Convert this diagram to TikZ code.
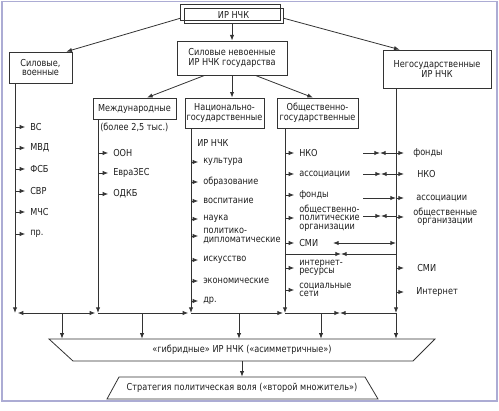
\documentclass[tikz,border=0pt]{standalone}
\usepackage{fontspec}
\setmainfont{DejaVu Sans}[FakeStretch=0.85]
\usetikzlibrary{arrows.meta}
\definecolor{lc}{HTML}{333333}
\definecolor{tc}{HTML}{1E1E1E}
\definecolor{fr}{RGB}{172,172,212}
\newcommand\fbx{\fontsize{7.2pt}{7.1pt}\selectfont}
\newcommand\fitem{\fontsize{7.2pt}{6.4pt}\selectfont}
\begin{document}
\begin{tikzpicture}[x=0.75pt,y=-0.75pt,
  box/.style={draw=lc, line width=0.6pt, font=\fbx, text=tc, align=center, inner sep=0pt},
  it/.style={font=\fitem, text=tc, inner sep=0pt, anchor=west, align=left},
  ln/.style={draw=lc, line width=0.6pt},
  arr/.style={ln, -{Latex[length=4.2pt,width=3.2pt]}},
  dbl/.style={ln, {Latex[length=4.2pt,width=3.2pt]}-{Latex[length=4.2pt,width=3.2pt]}},
  iarr/.style={arr, shorten >=3.5pt},
  lbl/.style={font=\fbx, text=tc, inner sep=0pt, minimum height=16.5pt}
]
\useasboundingbox (0,0) rectangle (499,410);
\draw[fr, line width=1.3pt] (2,1.5) rectangle (497,401);

% boxes
\node[box, minimum width=74.25pt, minimum height=11.25pt] (top) at (233.5,15.5) {ИР НЧК};
\draw[ln] ([shift={(-3,-3)}]top.south west) rectangle ([shift={(-3,-3)}]top.north east);
\node[box, minimum width=47.25pt, minimum height=23.25pt] (sil) at (40.5,67.5) {Силовые,\\военные};
\node[box, minimum width=82.5pt, minimum height=25.5pt] (nev) at (232,58) {Силовые невоенные\\ИР НЧК государства};
\node[box, minimum width=81pt, minimum height=28.5pt] (neg) at (437,69) {Негосударственные\\ИР НЧК};
\node[box, minimum width=62.25pt, minimum height=15.75pt] (mezh) at (134.5,108.5) {Международные};
\node[box, minimum width=59.25pt, minimum height=22.5pt] (nac) at (224.5,113) {Национально-\\государственные};
\node[box, minimum width=60.75pt, minimum height=22.5pt] (obsh) at (317.5,113) {Общественно-\\государственные};

% top arrows
\draw[arr] ([xshift=-2.25pt,yshift=-2pt]top.west) -- ([xshift=-4.5pt]sil.north east);
\draw[arr] (top.south -| nev.north) -- (nev.north);
\draw[arr] ([yshift=-2pt]top.east) -- ([xshift=12.75pt]neg.north west);
\draw[arr] ([xshift=21pt]nev.south west) -- ([xshift=9.4pt]mezh.north);
\draw[arr] (nev.south) -- (nev.south |- nac.north);
\draw[arr] ([xshift=-24pt]nev.south east) -- ([xshift=-3.4pt]obsh.north);

% column coordinates
\coordinate (cA) at (15,313);
\coordinate (cB) at (98,313);
\coordinate (cC) at (191,313);
\coordinate (cD) at (285,313);
\coordinate (cE) at (396,313);
\coordinate (tE) at (404,313);

\draw[arr] (sil.south -| cA) -- (cA);
\draw[arr] (mezh.south -| cB) -- (cB);
\draw[arr] (nac.south -| cC) -- (cC);
\draw[arr] (obsh.south -| cD) -- (cD);
\draw[arr] (neg.south -| cE) -- (cE);

% bus
\draw[dbl, shorten <=2pt, shorten >=2pt] (cA) -- (cB);
\draw[arr, shorten >=2pt] (cB) -- (cC);
\draw[arr, shorten >=1.5pt] (cC) -- (cD);
\coordinate (mB) at (340,313);
\draw[arr] (cD) -- (mB);
\draw[arr] (cE) -- (mB);

% bottom shapes
\draw[ln] (49,339) -- (435,339) -- (413,361) -- (73,361) -- cycle;
\node[lbl] (gib) at (242,350) {«гибридные» ИР НЧК («асимметричные»)};
\draw[ln] (119,377) -- (365,377) -- (378,399) -- (107,399) -- cycle;
\node[lbl] (str) at (242,388) {Стратегия политическая воля («второй множитель»)};
\draw[arr] (gib.south) -- (str.north);

\coordinate (d1) at (62,313);
\coordinate (d2) at (142,313);
\coordinate (d3) at (239,313);
\coordinate (d4) at (321,313);
\foreach \d in {d1,d2,d3,d4,cE} \draw[arr] (\d) -- (\d |- gib.north);

% column A items
\foreach \n/\y/\t in {a1/127/ВС, a2/148/МВД, a3/169/ФСБ, a4/191/СВР, a5/212/МЧС, a6/234/пр.} {
  \node[it] (\n) at (30,\y) {\t};
  \draw[iarr] (\n.west -| cA) -- (\n.west);
}

% column B items
\node[it] (b0) at (100,127) {(более 2,5 тыс.)};
\foreach \n/\y/\t in {b1/153/ООН, b2/173/ЕвраЗЕС, b3/194/ОДКБ} {
  \node[it] (\n) at (113,\y) {\t};
  \draw[iarr] (\n.west -| cB) -- (\n.west);
}

% column C items
\node[it] (c0) at (197,143) {ИР НЧК};
\foreach \n/\y/\t in {c1/162/культура, c2/182/образование, c3/201/воспитание, c4/219/наука,
  c5/236/{политико-\\дипломатические}, c6/260/искусство, c7/281/экономические, c8/301/др.} {
  \node[it] (\n) at (203,\y) {\t};
  \draw[iarr] (\n.west -| cC) -- (\n.west);
}

% column D items
\foreach \n/\y/\t in {e1/153/НКО, e2/174/ассоциации, e3/195/фонды,
  e4/218/{общественно-\\политические\\организации}, e5/243/СМИ,
  e6/268/{интернет-\\ресурсы}, e7/290/{социальные\\сети}} {
  \node[it] (\n) at (299,\y) {\t};
  \draw[iarr] (\n.west -| cD) -- (\n.west);
}

% column E items
\node[it] (f1) at (413,153) {фонды};
\node[it] (f2) at (417,174) {НКО};
\node[it] (f3) at (416,198) {ассоциации};
\node[it, align=center] (f4) at (413,217) {общественные\\организации};
\node[it] (f5) at (417,268) {СМИ};
\node[it] (f6) at (416,292) {Интернет};
\foreach \n in {f1,f2,f3,f4,f5,f6} \draw[arr] (\n.west -| cE) -- (\n.west -| tE);

% connections between D and E
\coordinate (k1) at (363,153); \coordinate (m1) at (380,153);
\draw[arr] (k1) -- (m1); \draw[arr] (k1 -| cE) -- (m1);
\coordinate (k2) at (363,174); \coordinate (m2) at (381,174);
\draw[arr] (k2) -- (m2); \draw[arr] (k2 -| cE) -- (m2);
\coordinate (k3) at (363,198);
\draw[arr] (k3) -- (k3 -| cE);
\coordinate (k4) at (363,216); \coordinate (m4) at (381,216);
\draw[arr] (k4) -- (m4); \draw[arr] (k4 -| cE) -- (m4);
\coordinate (k5) at (333,243);
\draw[dbl] (k5) -- (k5 -| cE);
\coordinate (m6) at (341,254);
\draw[arr] (m6 -| cD) -- (m6); \draw[arr] (m6 -| cE) -- (m6);
\end{tikzpicture}
\end{document}
